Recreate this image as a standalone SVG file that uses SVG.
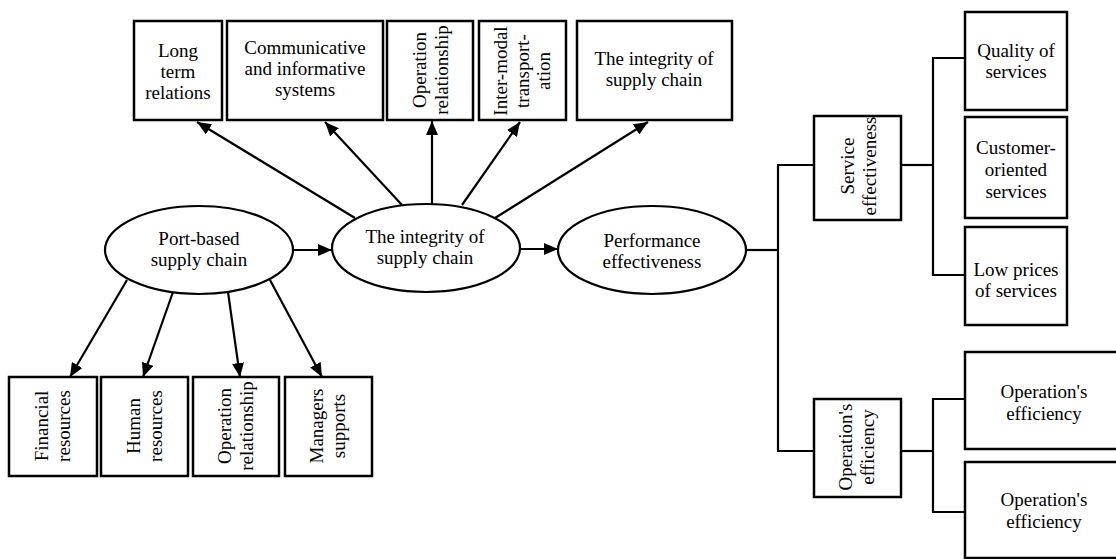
<svg xmlns="http://www.w3.org/2000/svg" width="1116" height="559" viewBox="0 0 1116 559" font-family="'Liberation Serif', 'DejaVu Serif', 'Times New Roman', Times, serif">
<style>
.box{fill:#fff;stroke:#000;stroke-width:2.5}
.ell{fill:#fff;stroke:#000;stroke-width:2.2}
text{font-family:'Liberation Serif','DejaVu Serif','Times New Roman',Times,serif;font-size:19px;fill:#000;text-anchor:middle}
.c{fill:none;stroke:#000;stroke-width:2.2}
.a{fill:none;stroke:#000;stroke-width:2.2;marker-end:url(#ah)}
</style>
<defs>
<marker id="ah" markerUnits="userSpaceOnUse" markerWidth="14" markerHeight="12" refX="14" refY="6" orient="auto">
<path d="M0,0 L14,6 L0,12 z" fill="#000"/>
</marker>
</defs>
<rect width="1116" height="559" fill="#fff"/>

<g id="connectors">
<line class="a" x1="355" y1="218" x2="197" y2="122"/>
<line class="a" x1="402" y1="205" x2="325" y2="122"/>
<line class="a" x1="432" y1="204" x2="432" y2="121"/>
<line class="a" x1="462" y1="205" x2="520" y2="122"/>
<line class="a" x1="495" y1="218" x2="648" y2="122"/>
<line class="a" x1="293" y1="250" x2="332" y2="250"/>
<line class="a" x1="520" y1="249" x2="558" y2="249"/>
<line class="a" x1="127" y1="280" x2="70" y2="377"/>
<line class="a" x1="173" y1="292" x2="143" y2="377"/>
<line class="a" x1="228" y1="292" x2="240" y2="377"/>
<line class="a" x1="270" y1="280" x2="322" y2="377"/>
<polyline class="c" points="746,250 778,250"/>
<polyline class="c" points="814,165 778,165 778,451 814,451"/>
<polyline class="c" points="901,165 933,165"/>
<polyline class="c" points="965,58 933,58 933,275 965,275"/>
<polyline class="c" points="901,451 933,451"/>
<polyline class="c" points="965,399 933,399 933,512 965,512"/>
</g>

<g id="long-term">
<rect class="box" x="134" y="21" width="88" height="99"/>
<text><tspan x="178" y="57">Long</tspan><tspan x="178" y="78">term</tspan><tspan x="178" y="99">relations</tspan></text>
</g>
<g id="communicative">
<rect class="box" x="227" y="21" width="156" height="99"/>
<text><tspan x="305" y="54">Communicative</tspan><tspan x="305" y="75">and informative</tspan><tspan x="305" y="96">systems</tspan></text>
</g>
<g id="operation-top">
<rect class="box" x="387" y="21" width="86" height="99"/>
<text transform="translate(431,70) rotate(-90)"><tspan x="0" y="-5.5">Operation</tspan><tspan x="0" y="16.5">relationship</tspan></text>
</g>
<g id="intermodal">
<rect class="box" x="479" y="21" width="87" height="99"/>
<text transform="translate(523,71) rotate(-90)"><tspan x="0" y="-16">Inter-modal</tspan><tspan x="0" y="5.5">transport-</tspan><tspan x="0" y="27">ation</tspan></text>
</g>
<g id="integrity-top">
<rect class="box" x="577" y="21" width="155" height="99"/>
<text><tspan x="654" y="65">The integrity of</tspan><tspan x="654" y="86">supply chain</tspan></text>
</g>

<g id="port-based">
<ellipse class="ell" cx="199" cy="250" rx="94" ry="44"/>
<text><tspan x="199" y="245">Port-based</tspan><tspan x="199" y="266">supply chain</tspan></text>
</g>
<g id="integrity">
<ellipse class="ell" cx="426" cy="248" rx="94" ry="44"/>
<text><tspan x="425" y="243">The integrity of</tspan><tspan x="425" y="264">supply chain</tspan></text>
</g>
<g id="performance">
<ellipse class="ell" cx="652" cy="250" rx="94" ry="44"/>
<text><tspan x="652" y="247">Performance</tspan><tspan x="652" y="268">effectiveness</tspan></text>
</g>

<g id="financial">
<rect class="box" x="9" y="377" width="88" height="99"/>
<text transform="translate(53,426) rotate(-90)"><tspan x="0" y="-5.5">Financial</tspan><tspan x="0" y="16.5">resources</tspan></text>
</g>
<g id="human">
<rect class="box" x="101" y="377" width="87" height="99"/>
<text transform="translate(145,426) rotate(-90)"><tspan x="0" y="-5.5">Human</tspan><tspan x="0" y="16.5">resources</tspan></text>
</g>
<g id="operation-bottom">
<rect class="box" x="193" y="377" width="86" height="99"/>
<text transform="translate(236,426) rotate(-90)"><tspan x="0" y="-5.5">Operation</tspan><tspan x="0" y="16.5">relationship</tspan></text>
</g>
<g id="managers">
<rect class="box" x="285" y="377" width="87" height="99"/>
<text transform="translate(328,426) rotate(-90)"><tspan x="0" y="-5.5">Managers</tspan><tspan x="0" y="16.5">supports</tspan></text>
</g>

<g id="service-effectiveness">
<rect class="box" x="814" y="116" width="87" height="104"/>
<text transform="translate(859,166) rotate(-90)"><tspan x="0" y="-5.5">Service</tspan><tspan x="0" y="16.5">effectiveness</tspan></text>
</g>
<g id="operations-efficiency">
<rect class="box" x="814" y="399" width="87" height="98"/>
<text transform="translate(857,447) rotate(-90)"><tspan x="0" y="-5.5">Operation's</tspan><tspan x="0" y="16.5">efficiency</tspan></text>
</g>

<g id="quality">
<rect class="box" x="965" y="12" width="102" height="98"/>
<text><tspan x="1016" y="57">Quality of</tspan><tspan x="1016" y="78">services</tspan></text>
</g>
<g id="customer">
<rect class="box" x="965" y="117" width="102" height="101"/>
<text><tspan x="1016" y="154">Customer-</tspan><tspan x="1016" y="176">oriented</tspan><tspan x="1016" y="198">services</tspan></text>
</g>
<g id="low-prices">
<rect class="box" x="965" y="227" width="102" height="98"/>
<text><tspan x="1016" y="276">Low prices</tspan><tspan x="1016" y="297">of services</tspan></text>
</g>
<g id="op-efficiency-1">
<rect class="box" x="965" y="352" width="160" height="97"/>
<text><tspan x="1044" y="398">Operation's</tspan><tspan x="1044" y="420">efficiency</tspan></text>
</g>
<g id="op-efficiency-2">
<rect class="box" x="965" y="462" width="160" height="96"/>
<text><tspan x="1044" y="506">Operation's</tspan><tspan x="1044" y="528">efficiency</tspan></text>
</g>
</svg>
